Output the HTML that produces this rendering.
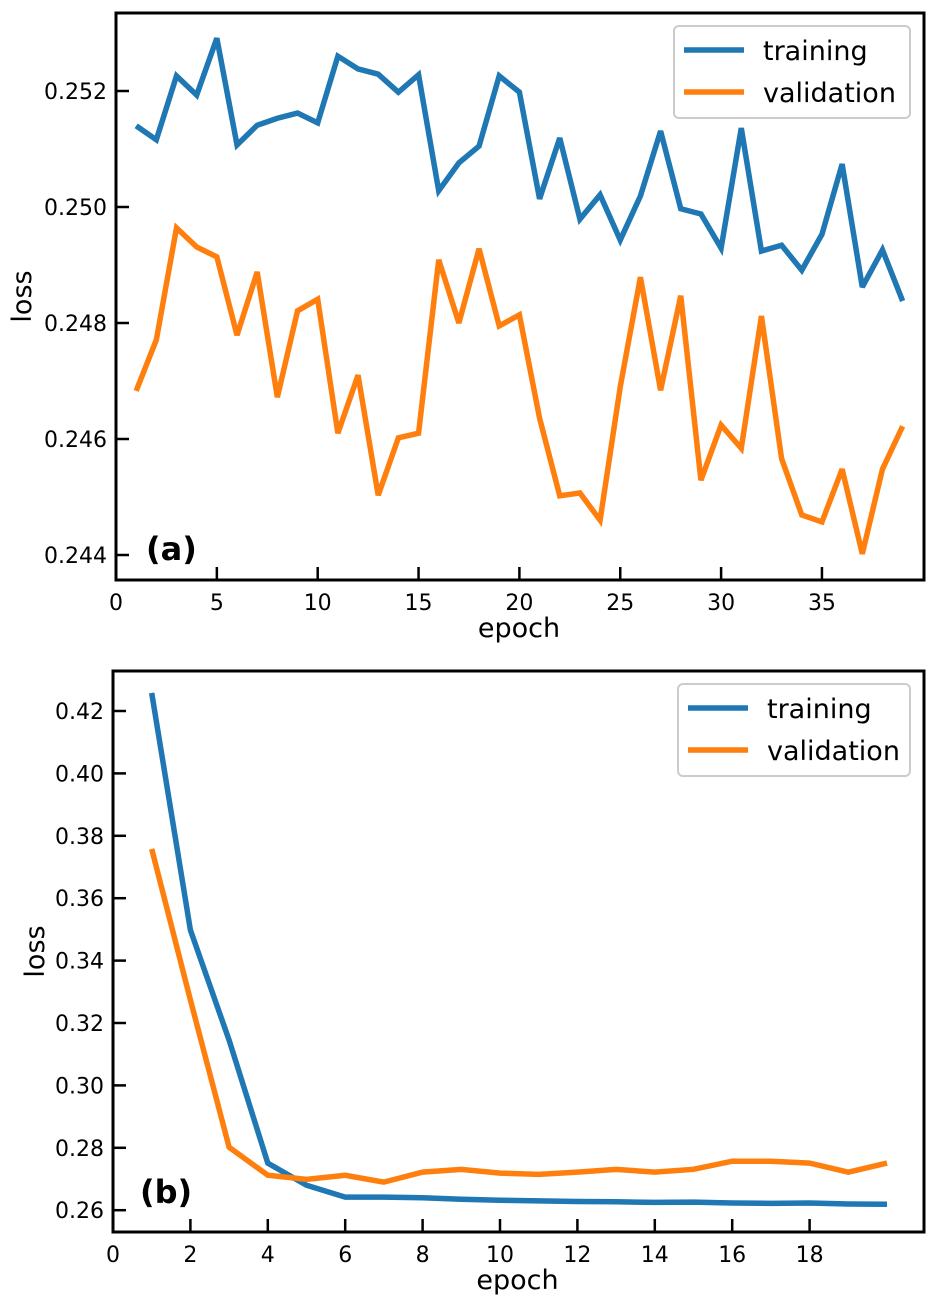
<!DOCTYPE html>
<html><head><meta charset="utf-8"><style>
html,body{margin:0;padding:0;background:#fff}
svg{display:block;font-family:"DejaVu Sans","Liberation Sans",sans-serif}
</style></head><body>
<svg id="chart" width="941" height="1307" viewBox="0 0 941 1307" xmlns="http://www.w3.org/2000/svg"></svg>
<script>
const epochsA = Array.from({length:39},(_,i)=>i+1);
const trainA = [0.25140,0.25116,0.25226,0.25193,0.25291,0.25107,0.25141,0.25153,0.25162,0.25145,0.25260,0.25238,0.25229,0.25198,0.25228,0.25028,0.25076,0.25105,0.25226,0.25198,0.25014,0.25119,0.24979,0.25021,0.24943,0.25019,0.25131,0.24997,0.24988,0.24929,0.25136,0.24924,0.24934,0.24891,0.24953,0.25074,0.24862,0.24926,0.24838];
const valA = [0.24683,0.24771,0.24964,0.24931,0.24914,0.24779,0.24888,0.24672,0.24821,0.24841,0.24610,0.24710,0.24503,0.24602,0.24610,0.24909,0.24800,0.24928,0.24795,0.24814,0.24636,0.24502,0.24507,0.24460,0.24690,0.24879,0.24684,0.24847,0.24529,0.24624,0.24584,0.24812,0.24566,0.24469,0.24457,0.24548,0.24402,0.24548,0.24622];
const xTicksA = [0,5,10,15,20,25,30,35];
const yTicksA = [0.244,0.246,0.248,0.250,0.252];
const epochsB = Array.from({length:20},(_,i)=>i+1);
const trainB = [0.4258,0.3498,0.3145,0.2751,0.2680,0.2642,0.2642,0.2640,0.2635,0.2632,0.2630,0.2628,0.2627,0.2625,0.2626,0.2623,0.2622,0.2623,0.2620,0.2619];
const valB = [0.3758,0.3274,0.2802,0.2712,0.2699,0.2712,0.2690,0.2722,0.2731,0.2719,0.2715,0.2722,0.2731,0.2722,0.2731,0.2757,0.2757,0.2751,0.2722,0.2751];
const xTicksB = [0,2,4,6,8,10,12,14,16,18];
const yTicksB = [0.26,0.28,0.30,0.32,0.34,0.36,0.38,0.40,0.42];

const NS="http://www.w3.org/2000/svg";
const svg=document.getElementById('chart');
function el(tag,attrs,parent){const e=document.createElementNS(NS,tag);for(const k in attrs)e.setAttribute(k,attrs[k]);(parent||svg).appendChild(e);return e;}

function panel(cfg){
  const g=el('g',{});
  
  
  const {x0,x1,y0,y1}=cfg;
  const sx=v=>cfg.px0+(v-cfg.dx0)*cfg.pxPer;
  const sy=v=>cfg.py0+(v-cfg.dy0)*cfg.pyPer;
  cfg.xticks.forEach(t=>{
    const x=sx(t);
    const tk=el('line',{x1:x,x2:x,y1:y1,y2:y1-13,stroke:'#000','stroke-width':2.5},g);
    
    
    const lb=el('text',{x:x,y:y1+30,'text-anchor':'middle','font-size':22},g);
    lb.textContent=t;
    
    
  });
  cfg.yticks.forEach(t=>{
    const y=sy(t);
    const tk=el('line',{x1:x0,x2:x0+13,y1:y,y2:y,stroke:'#000','stroke-width':2.5},g);
    
    
    const lb=el('text',{x:x0-9,y:y+8,'text-anchor':'end','font-size':22},g);
    lb.textContent=t.toFixed(cfg.dec);
    
    
  });
  const series=[[cfg.train,'#1f77b4','training-line'],[cfg.val,'#ff7f0e','validation-line']];
  series.forEach(([vals,col,nm])=>{
    const p=el('polyline',{points:cfg.ep.map((e,i)=>sx(e)+','+sy(vals[i])).join(' '),fill:'none',stroke:col,'stroke-width':5.5,'stroke-linejoin':'miter','stroke-miterlimit':3},g);
    
    
  });
  const fr=el('rect',{x:x0,y:y0,width:x1-x0,height:y1-y0,fill:'none',stroke:'#000','stroke-width':3},g);
  
  
  const xl=el('text',{x:(x0+x1)/2-1,y:y1+57,'text-anchor':'middle','font-size':27},g);
  xl.textContent='epoch';
  
  
  const yl=el('text',{x:0,y:0,'text-anchor':'middle','font-size':27,transform:`translate(${cfg.ylx},${(y0+y1)/2}) rotate(-90)`},g);
  yl.textContent='loss';
  
  
  const pl=el('text',{x:cfg.plx,y:cfg.ply,'font-size':32,'font-weight':'bold'},g);
  pl.textContent=cfg.label;
  
  
  const lg=el('g',{},g);
  
  
  el('rect',{x:cfg.lgx,y:cfg.lgy,width:x1-14-cfg.lgx,height:92,rx:5,fill:'#fff',stroke:'#ccc','stroke-width':2},lg);
  [['training','#1f77b4'],['validation','#ff7f0e']].forEach(([t,c],i)=>{
    const yy=cfg.lgy+24+i*42;
    const ln=el('line',{x1:cfg.lgx+10,x2:cfg.lgx+70,y1:yy,y2:yy,stroke:c,'stroke-width':5.5},lg);
    
    
    const tx=el('text',{x:cfg.lgx+89,y:yy+10,'font-size':27},lg);
    tx.textContent=t;
    
    
  });
}

panel({name:'panel-a',x0:116,x1:924,y0:13,y1:580,px0:116,dx0:0,pxPer:20.17,py0:91,dy0:0.252,pyPer:-58000,
  xticks:xTicksA,yticks:yTicksA,dec:3,ep:epochsA,train:trainA,val:valA,ylx:31,plx:146,ply:560,label:'(a)',lgx:674,lgy:26});
panel({name:'panel-b',x0:113,x1:924,y0:671,y1:1232,px0:113,dx0:0,pxPer:38.7,py0:711,dy0:0.42,pyPer:-3120,
  xticks:xTicksB,yticks:yTicksB,dec:2,ep:epochsB,train:trainB,val:valB,ylx:44,plx:140,ply:1203,label:'(b)',lgx:678,lgy:684});
</script>
</body></html>
